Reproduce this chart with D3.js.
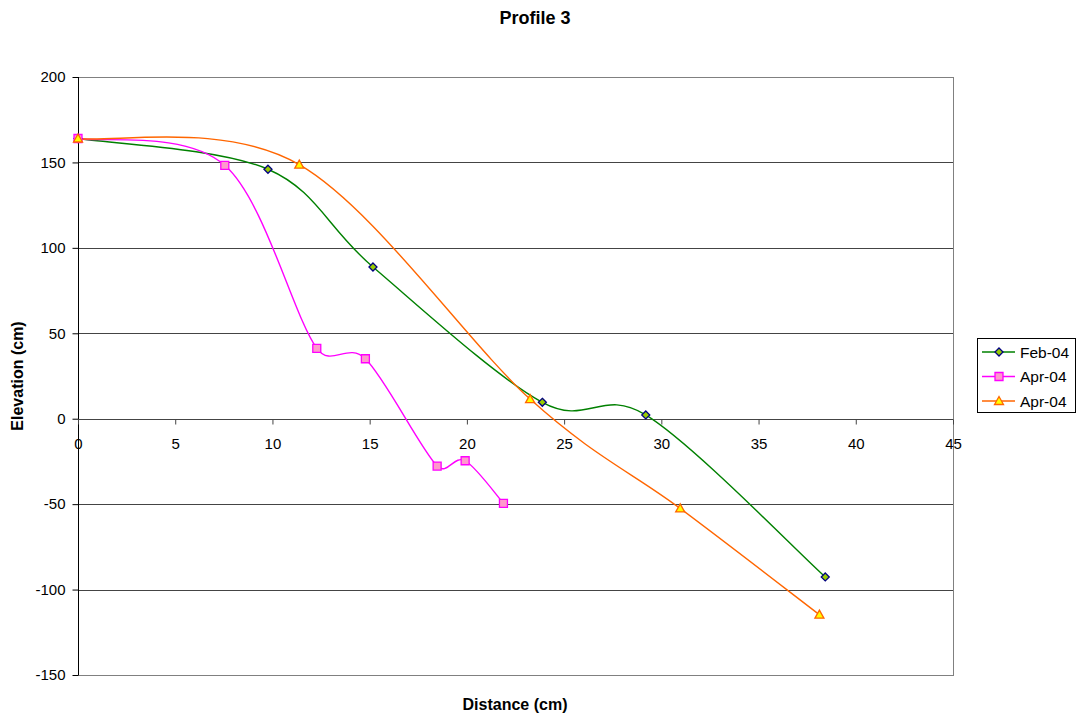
<!DOCTYPE html>
<html><head><meta charset="utf-8">
<script src="https://cdn.jsdelivr.net/npm/d3@7"></script>
<style>body{margin:0;background:#fff}svg{display:block}text{font-family:"Liberation Sans",Arial,sans-serif}</style>
</head><body>
<svg id="c" width="1079" height="719"></svg>
<script>
const seriesNames = ["Feb-04", "Apr-04", "Apr-04"];
const febX = [0, 9.77, 15.17, 23.88, 29.2, 38.43];
const febY = [164, 146, 88.8, 9.6, 2.2, -92.6];
const aprAX = [0, 7.55, 12.28, 14.78, 18.47, 19.91, 21.88];
const aprAY = [164, 148.3, 41.2, 35.1, -27.7, -24.6, -49.5];
const aprBX = [0, 11.38, 23.25, 30.97, 38.13];
const aprBY = [164, 148.7, 11.5, -52.5, -114.7];
const xTicks = [0, 5, 10, 15, 20, 25, 30, 35, 40, 45];
const yTicks = [200, 150, 100, 50, 0, -50, -100, -150];

const svg = d3.select("#c");
const L = 78, R = 953, T = 77, B = 675;
const x = d3.scaleLinear().domain([0, 45]).range([L, R]);
const y = d3.scaleLinear().domain([-150, 200]).range([B, T]);
const fmt = d => String(d);

// plot border
svg.append("rect").attr("x", L + 0.5).attr("y", T + 0.5).attr("width", R - L).attr("height", B - T)
  .attr("fill", "none").attr("stroke", "#808080").attr("stroke-width", 1);

// gridlines
svg.append("g").selectAll("line").data(yTicks.filter(v => v !== 200 && v !== -150 && v !== 0)).join("line")
  .attr("x1", L).attr("x2", R).attr("y1", d => Math.round(y(d)) + 0.5).attr("y2", d => Math.round(y(d)) + 0.5)
  .attr("stroke", "#444").attr("stroke-width", 1);

// y axis
const yAxis = d3.axisLeft(y).tickValues(yTicks).tickSize(6).tickPadding(7).tickFormat(fmt);
const gy = svg.append("g").attr("transform", `translate(${L + 0.5},0)`).call(yAxis);
gy.select(".domain").attr("stroke", "#000").attr("d", `M0,${T}V${B}`);
gy.selectAll(".tick line").attr("stroke", "#000");
gy.selectAll("text").attr("font-size", 15).attr("fill", "#000").style("font-family", "Liberation Sans, Arial");

// x axis at y=0
const xAxis = d3.axisBottom(x).tickValues(xTicks).tickSize(5).tickPadding(14).tickFormat(fmt);
const gx = svg.append("g").attr("transform", `translate(0,${Math.round(y(0)) + 0.5})`).call(xAxis);
gx.select(".domain").attr("stroke", "#444").attr("d", `M${L},0H${R}`);
gx.selectAll(".tick line").attr("stroke", "#444");
gx.selectAll("text").attr("font-size", 15).attr("fill", "#000").style("font-family", "Liberation Sans, Arial");

// Excel-like smoothed line: Bezier segments, handles = (P[i+1]-P[i-1])/6, capped at half the segment length
function smoothPath(data) {
  const p = data.map(d => [x(d[0]), y(d[1])]);
  const n = p.length;
  const path = d3.path();
  path.moveTo(p[0][0], p[0][1]);
  const cap = (v, m) => {
    const l = Math.hypot(v[0], v[1]);
    if (l > m && l > 0) return [v[0] * m / l, v[1] * m / l];
    return v;
  };
  for (let i = 0; i < n - 1; i++) {
    const a = p[i], b = p[i + 1];
    const prev = p[Math.max(0, i - 1)], next = p[Math.min(n - 1, i + 2)];
    const seg = Math.hypot(b[0] - a[0], b[1] - a[1]);
    const h1 = cap([(b[0] - prev[0]) / 6, (b[1] - prev[1]) / 6], seg / 2);
    const h2 = cap([(next[0] - a[0]) / 6, (next[1] - a[1]) / 6], seg / 2);
    path.bezierCurveTo(a[0] + h1[0], a[1] + h1[1], b[0] - h2[0], b[1] - h2[1], b[0], b[1]);
  }
  return path.toString();
}

const feb = febX.map((v, i) => [v, febY[i]]);
const aprA = aprAX.map((v, i) => [v, aprAY[i]]);
const aprB = aprBX.map((v, i) => [v, aprBY[i]]);

const series = [
  {data: feb, color: "#008000", fill: "#99cc00", mstroke: "#000080", shape: "diamond"},
  {data: aprA, color: "#ff00ff", fill: "#ff99cc", mstroke: "#ff00ff", shape: "square"},
  {data: aprB, color: "#ff6600", fill: "#ffff00", mstroke: "#ff6600", shape: "triangle"}
];

function marker(g, shape, fill, stroke) {
  if (shape === "diamond") g.append("path").attr("d", "M0,-4L4,0L0,4L-4,0Z");
  else if (shape === "square") g.append("path").attr("d", "M-4,-4H4V4H-4Z");
  else g.append("path").attr("d", "M0,-4.5L4.5,3.5H-4.5Z");
  g.select("path").attr("fill", fill).attr("stroke", stroke).attr("stroke-width", 1.3);
}

series.forEach(s => {
  svg.append("path").attr("d", smoothPath(s.data)).attr("fill", "none")
    .attr("stroke", s.color).attr("stroke-width", 1.4);
});
series.forEach(s => {
  s.data.forEach(p => {
    const g = svg.append("g").attr("transform", `translate(${x(p[0])},${y(p[1])})`);
    marker(g, s.shape, s.fill, s.mstroke);
  });
});

// title and axis labels
svg.append("text").attr("x", 535).attr("y", 24).attr("text-anchor", "middle")
  .attr("font-size", 18).attr("font-weight", "bold").text("Profile 3");
svg.append("text").attr("x", 515).attr("y", 710).attr("text-anchor", "middle")
  .attr("font-size", 16).attr("font-weight", "bold").text("Distance (cm)");
svg.append("text").attr("transform", "translate(23,376) rotate(-90)").attr("text-anchor", "middle")
  .attr("font-size", 16).attr("font-weight", "bold").text("Elevation (cm)");

// legend
const lg = svg.append("g").attr("transform", "translate(977,338)");
lg.append("rect").attr("x", 0.5).attr("y", 0.5).attr("width", 98).attr("height", 74)
  .attr("fill", "#fff").attr("stroke", "#000");
series.forEach((s, i) => {
  const yy = 14 + i * 24.5;
  lg.append("line").attr("x1", 5).attr("x2", 38).attr("y1", yy).attr("y2", yy)
    .attr("stroke", s.color).attr("stroke-width", 1.4);
  const g = lg.append("g").attr("transform", `translate(22,${yy})`);
  marker(g, s.shape, s.fill, s.mstroke);
  lg.append("text").attr("x", 43).attr("y", yy + 5.5).attr("font-size", 15.5).text(seriesNames[i]);
});
</script>
</body></html>
